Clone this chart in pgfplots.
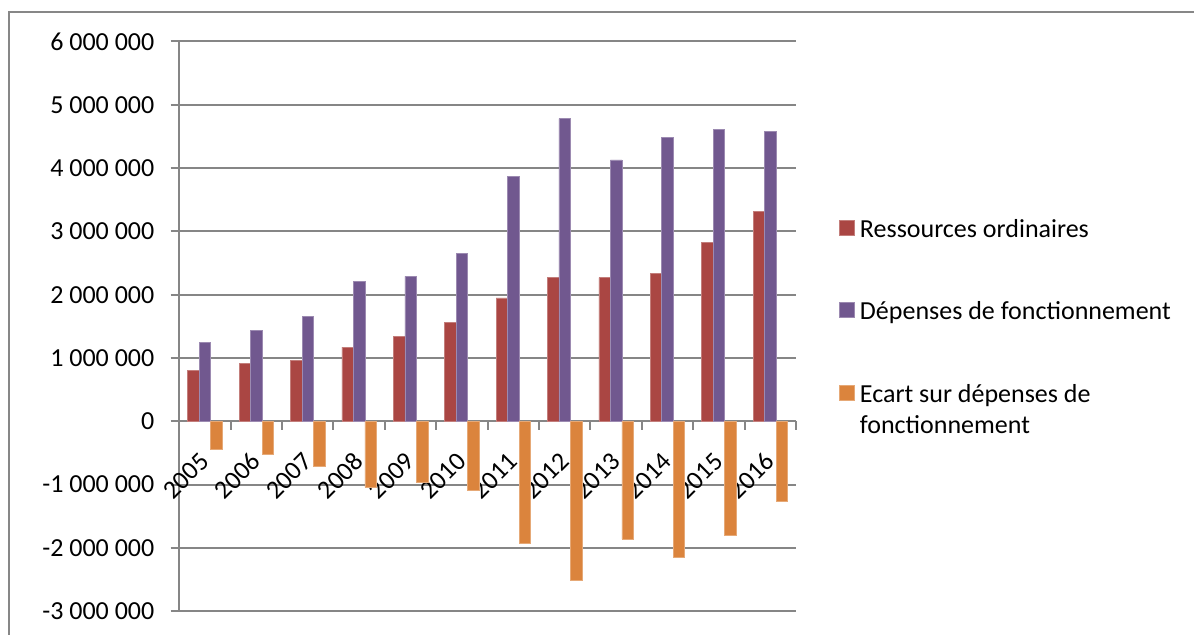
\documentclass[border=0pt]{standalone}
\usepackage{fontspec}
\setmainfont{Carlito}
\usepackage{pgfplots}
\pgfplotsset{compat=1.18}
\definecolor{rcol}{HTML}{AA4643}
\definecolor{dcol}{HTML}{71588F}
\definecolor{ecol}{HTML}{DB843D}
\definecolor{gridgray}{HTML}{868686}
\definecolor{framegray}{HTML}{878787}
\begin{document}
\begin{tikzpicture}
\path[use as bounding box] (0,0) rectangle (597pt,317.5pt);
\draw[framegray, line width=1pt] (4.5pt,-1pt) -- (4.5pt,311.5pt) -- (598pt,311.5pt);
\begin{axis}[
  at={(89.65pt,11.9pt)}, anchor=south west,
  scale only axis, width=308.35pt, height=284.85pt,
  ybar=0pt, bar width=5.75pt,
  xmin=-0.5, xmax=11.5, ymin=-3000000, ymax=6000000,
  enlargelimits=false, scaled y ticks=false,
  axis x line*=middle, axis y line*=left,
  axis line style={draw=gridgray, line width=1pt},
  tick align=outside,
  major tick length=4.3pt, minor tick length=4.3pt,
  tick style={draw=gridgray, line width=1pt},
  every major x tick/.append style={draw=none},
  xtick={0,...,11},
  xticklabels={2005,2006,2007,2008,2009,2010,2011,2012,2013,2014,2015,2016},
  minor xtick={-0.5,0.5,...,11.5},
  ytick={-3000000,-2000000,-1000000,0,1000000,2000000,3000000,4000000,5000000,6000000},
  yticklabels={-3 000 000,-2 000 000,-1 000 000,0,1 000 000,2 000 000,3 000 000,4 000 000,5 000 000,6 000 000},
  ymajorgrids, major grid style={draw=gridgray, line width=1pt},
  tick label style={font=\fontsize{13}{15.6}\selectfont, inner sep=0pt},
  xticklabel style={xshift=0pt, yshift=-13.5pt, rotate=45, anchor=east},
  yticklabel style={anchor=east, xshift=-8pt},
  legend style={at={(1.0697,0.6956)}, anchor=north west, draw=none, fill=none,
    inner sep=0pt, row sep=28.8pt, column sep=2.5pt,
    font=\fontsize{13}{15.6}\selectfont, nodes={inner sep=0pt}},
  legend cell align=left,
  legend image code/.code={\fill[#1] (0pt,-3.75pt) rectangle (7.5pt,3.75pt);},
]
\addplot[fill=rcol, draw=rcol!70!white, line width=0.3pt] coordinates {
(0,800000) (1,910000) (2,960000) (3,1170000) (4,1340000) (5,1560000)
(6,1950000) (7,2270000) (8,2270000) (9,2340000) (10,2820000) (11,3320000)};
\addplot[fill=dcol, draw=dcol!70!white, line width=0.3pt] coordinates {
(0,1240000) (1,1430000) (2,1660000) (3,2210000) (4,2290000) (5,2650000)
(6,3870000) (7,4780000) (8,4130000) (9,4490000) (10,4610000) (11,4580000)};
\addplot[fill=ecol, draw=ecol!70!white, line width=0.3pt] coordinates {
(0,-440000) (1,-520000) (2,-710000) (3,-1040000) (4,-960000) (5,-1090000)
(6,-1930000) (7,-2510000) (8,-1860000) (9,-2150000) (10,-1800000) (11,-1260000)};
\legend{Ressources ordinaires\strut, Dépenses de fonctionnement\strut,
  {\begin{tabular}[t]{@{}l@{}}Ecart sur dépenses de\\fonctionnement\end{tabular}}}
\end{axis}
\end{tikzpicture}
\end{document}
